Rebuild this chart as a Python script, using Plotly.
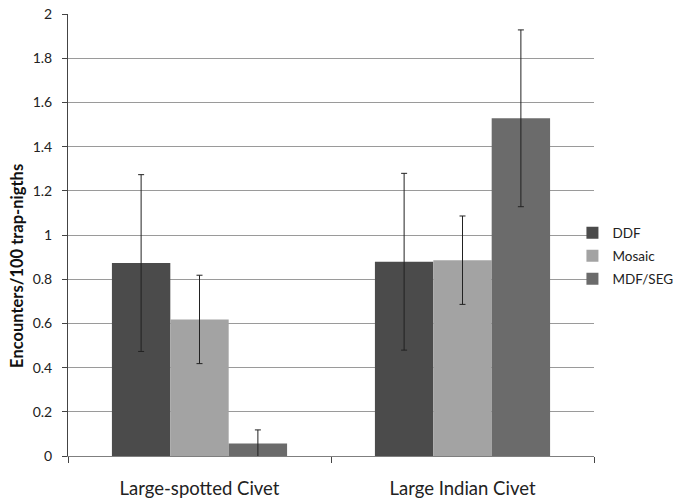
import plotly.graph_objects as go

categories = ["Large-spotted Civet", "Large Indian Civet"]
series_names = ["DDF", "Mosaic", "MDF/SEG"]
ddf_values = [0.873, 0.879]
ddf_err = [0.40, 0.40]
mosaic_values = [0.618, 0.886]
mosaic_err = [0.20, 0.20]
mdf_values = [0.056, 1.528]
mdf_err = [0.062, 0.40]
y_ticks = [0, 0.2, 0.4, 0.6, 0.8, 1, 1.2, 1.4, 1.6, 1.8, 2]
y_tick_labels = ["0", "0.2", "0.4", "0.6", "0.8", "1", "1.2", "1.4", "1.6", "1.8", "2"]
y_title = "Encounters/100 trap-nigths"

colors = ["#4b4b4b", "#a3a3a3", "#6b6b6b"]
values = [ddf_values, mosaic_values, mdf_values]
errors = [ddf_err, mosaic_err, mdf_err]

font_family = "Lato, 'Open Sans', sans-serif"

fig = go.Figure()
for name, vals, errs, col in zip(series_names, values, errors, colors):
    fig.add_trace(go.Bar(
        x=categories, y=vals, name=name, legendgroup=name,
        marker=dict(color=col, line=dict(width=0)),
        error_y=dict(type="data", array=errs, visible=True,
                     color="#222222", thickness=1, width=3),
    ))

fig.add_annotation(
    text="<b>" + y_title + "</b>", textangle=-90,
    xref="paper", yref="paper", x=-0.097, y=0.43,
    xanchor="center", yanchor="middle", showarrow=False,
    font=dict(size=16.5, family=font_family, color="#111111"),
)

fig.update_layout(
    width=686, height=501,
    margin=dict(l=68, r=92, t=14, b=45, autoexpand=False),
    paper_bgcolor="white", plot_bgcolor="white",
    barmode="group", bargap=0.334, bargroupgap=0,
    font=dict(family=font_family, color="#222222", size=13),
    showlegend=True,
    legend=dict(x=0.959, y=0.4525, xanchor="left", yanchor="middle",
                font=dict(size=13.5, family=font_family, color="#222222"),
                bgcolor="rgba(0,0,0,0)", itemwidth=30, tracegroupgap=2.5),
    xaxis=dict(
        type="category",
        showline=True, linecolor="#7f7f7f", linewidth=1,
        ticks="outside", tickson="boundaries", ticklen=6, tickcolor="#444444",
        tickfont=dict(size=18.5, family=font_family, color="#222222"),
        ticklabelstandoff=16,
        showgrid=False, zeroline=False,
    ),
    yaxis=dict(
        range=[0, 2],
        tickvals=y_ticks, ticktext=y_tick_labels,
        showline=True, linecolor="#444444", linewidth=1,
        ticks="outside", ticklen=5, tickcolor="#444444",
        tickfont=dict(size=14, family=font_family, color="#222222"),
        ticklabelstandoff=7,
        showgrid=True, gridcolor="#9a9a9a", gridwidth=1,
        zeroline=False,
    ),
)

fig.write_html("out.html", config={"displayModeBar": False},
               post_script="document.body.style.margin='0';")
